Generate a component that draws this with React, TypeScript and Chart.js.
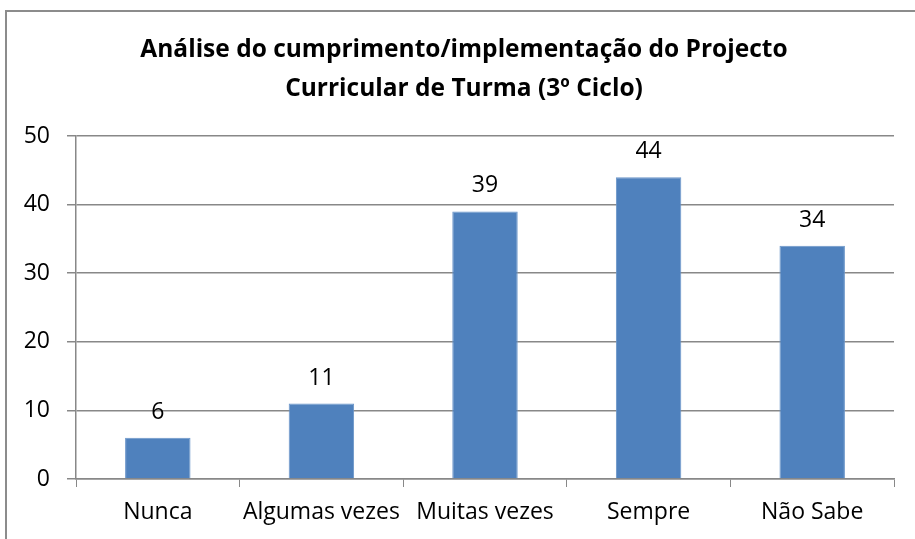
import React, { useEffect, useRef } from "react";
import { Chart, registerables } from "chart.js";

Chart.register(...registerables);

const titleLines = [
  "Análise do cumprimento/implementação do Projecto",
  "Curricular de Turma (3º Ciclo)",
];
const categories = ["Nunca", "Algumas vezes", "Muitas vezes", "Sempre", "Não Sabe"];
const values = [6, 11, 39, 44, 34];
const yTicks = [0, 10, 20, 30, 40, 50];

const FONT = "'Open Sans', Lato, sans-serif";
const TICK_SIZE = 23;

const framePlugin = {
  id: "frame",
  beforeDraw(chart: any) {
    const ctx = chart.ctx;
    ctx.save();
    ctx.fillStyle = "#ffffff";
    ctx.fillRect(0, 0, chart.width, chart.height);
    ctx.strokeStyle = "#8c8c8c";
    ctx.lineWidth = 2;
    ctx.beginPath();
    ctx.moveTo(6, chart.height + 2);
    ctx.lineTo(6, 11);
    ctx.lineTo(chart.width + 2, 11);
    ctx.stroke();
    ctx.fillStyle = "#000000";
    ctx.font = `bold 24.5px ${FONT}`;
    ctx.textAlign = "center";
    ctx.textBaseline = "alphabetic";
    ctx.fillText(titleLines[0], 464, 57);
    ctx.fillText(titleLines[1], 464, 96);
    ctx.restore();
  },
};

const labelPlugin = {
  id: "barLabels",
  afterDatasetsDraw(chart: any) {
    const ctx = chart.ctx;
    const meta = chart.getDatasetMeta(0);
    ctx.save();
    ctx.fillStyle = "#000000";
    ctx.font = `${TICK_SIZE}px ${FONT}`;
    ctx.textAlign = "center";
    ctx.textBaseline = "alphabetic";
    meta.data.forEach((bar: any, i: number) => {
      ctx.fillText(String(values[i]), bar.x, bar.y - 19);
    });
    ctx.restore();
  },
};

export default function App() {
  const ref = useRef<HTMLCanvasElement | null>(null);
  useEffect(() => {
    if (!ref.current) return;
    const chart = new Chart(ref.current, {
      type: "bar",
      data: {
        labels: categories,
        datasets: [
          {
            data: values,
            backgroundColor: "#4F81BD",
            borderColor: "#6a95c9",
            borderWidth: 1,
            barPercentage: 0.4,
            categoryPercentage: 1,
          },
        ],
      },
      options: {
        responsive: false,
        animation: false,
        layout: { padding: { top: 136, right: 21, bottom: 0, left: 0 } },
        plugins: {
          legend: { display: false },
          title: { display: false },
          tooltip: { enabled: false },
        },
        scales: {
          x: {
            offset: true,
            grid: {
              offset: true,
              drawOnChartArea: false,
              drawTicks: true,
              tickLength: 8,
              color: "#888888",
            },
            border: { color: "#888888", width: 1.5 },
            ticks: {
              color: "#000000",
              font: { family: FONT, size: TICK_SIZE },
              padding: 12,
              maxRotation: 0,
              autoSkip: false,
            },
            afterFit(scale: any) {
              scale.height = 60;
            },
          },
          y: {
            min: 0,
            max: 50,
            afterBuildTicks(scale: any) {
              scale.ticks = yTicks.map((v) => ({ value: v }));
            },
            grid: {
              color: "#888888",
              lineWidth: 1.5,
              tickLength: 9,
            },
            border: { color: "#888888", width: 1.5 },
            ticks: {
              color: "#000000",
              font: { family: FONT, size: TICK_SIZE },
              padding: 17,
            },
            afterFit(scale: any) {
              scale.width = 76;
            },
          },
        },
      },
      plugins: [framePlugin, labelPlugin],
    });
    return () => chart.destroy();
  }, []);
  return (
    <div style={{ position: "fixed", left: 0, top: 0, width: 915, height: 539 }}>
      <canvas ref={ref} width={915} height={539} style={{ display: "block" }} />
    </div>
  );
}
